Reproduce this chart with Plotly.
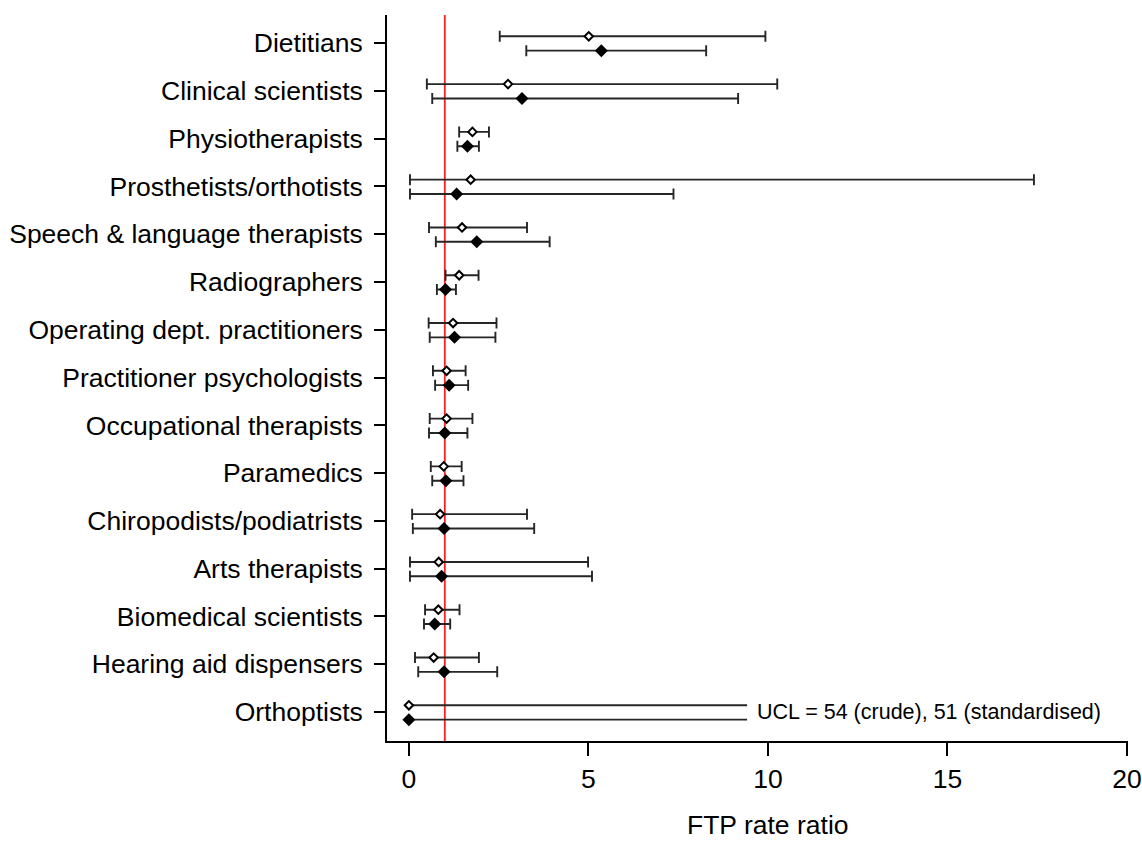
import plotly.graph_objects as go

categories = [
    "Dietitians", "Clinical scientists", "Physiotherapists", "Prosthetists/orthotists",
    "Speech & language therapists", "Radiographers", "Operating dept. practitioners",
    "Practitioner psychologists", "Occupational therapists", "Paramedics",
    "Chiropodists/podiatrists", "Arts therapists", "Biomedical scientists",
    "Hearing aid dispensers", "Orthoptists",
]
crude_rr = [5.01, 2.76, 1.77, 1.72, 1.48, 1.40, 1.23, 1.05, 1.05, 0.97, 0.87, 0.83, 0.82, 0.69, 0.0]
crude_lo = [2.53, 0.50, 1.40, 0.03, 0.56, 1.02, 0.55, 0.67, 0.58, 0.61, 0.09, 0.03, 0.45, 0.17, 0.0]
crude_hi = [9.93, 10.26, 2.23, 17.41, 3.29, 1.94, 2.44, 1.58, 1.77, 1.47, 3.29, 4.99, 1.41, 1.95, 54.0]
std_rr = [5.36, 3.15, 1.63, 1.33, 1.89, 1.02, 1.27, 1.12, 1.00, 1.03, 0.98, 0.91, 0.72, 0.98, 0.0]
std_lo = [3.27, 0.65, 1.35, 0.03, 0.75, 0.78, 0.58, 0.73, 0.56, 0.65, 0.11, 0.03, 0.42, 0.26, 0.0]
std_hi = [8.28, 9.17, 1.95, 7.37, 3.92, 1.31, 2.41, 1.65, 1.63, 1.52, 3.49, 5.10, 1.15, 2.46, 51.0]
null_value = 1.0
display_limit = 9.42
ucl_note = "UCL = 54 (crude), 51 (standardised)"
x_ticks = [0, 5, 10, 15, 20]

FONT = "Liberation Sans, Arial, sans-serif"
n = len(categories)
rows = [n - 1 - i for i in range(n)]
crude_y = [r + 0.14 for r in rows]
std_y = [r - 0.16 for r in rows]

fig = go.Figure()

def add_series(rr, lo, hi, ys, filled):
    keep = [i for i in range(n) if hi[i] <= display_limit * 2]
    fig.add_trace(go.Scatter(
        x=[rr[i] for i in keep], y=[ys[i] for i in keep], mode="markers",
        marker=dict(size=1, color="rgba(0,0,0,0)"),
        error_x=dict(type="data", symmetric=False,
                     array=[hi[i] - rr[i] for i in keep],
                     arrayminus=[rr[i] - lo[i] for i in keep],
                     color="#262626", thickness=1.9, width=5.5),
        hoverinfo="skip", showlegend=False))
    trunc = [i for i in range(n) if hi[i] > display_limit * 2]
    for i in trunc:
        fig.add_trace(go.Scatter(
            x=[lo[i], display_limit], y=[ys[i], ys[i]], mode="lines",
            line=dict(color="#262626", width=1.9), hoverinfo="skip", showlegend=False))
    if filled:
        mk = dict(symbol="diamond", size=10, color="black", line=dict(width=0))
    else:
        mk = dict(symbol="diamond", size=6.5, color="white", line=dict(color="black", width=2))
    fig.add_trace(go.Scatter(x=rr, y=ys, mode="markers", marker=mk,
                             showlegend=False, hoverinfo="x+y"))

add_series(crude_rr, crude_lo, crude_hi, crude_y, False)
add_series(std_rr, std_lo, std_hi, std_y, True)

fig.add_vline(x=null_value, line=dict(color="#ff1f1f", width=1.8), layer="below")

fig.add_annotation(x=display_limit, y=rows[-1], xref="x", yref="y", text=ucl_note,
                   showarrow=False, xanchor="left", yanchor="middle", xshift=8,
                   font=dict(family=FONT, size=21.5, color="black"))
fig.add_annotation(x=10, y=-0.1157, xref="x", yref="paper", text="FTP rate ratio",
                   showarrow=False, xanchor="center", yanchor="middle",
                   font=dict(family=FONT, size=26.5, color="black"))

fig.update_layout(
    width=1142, height=844,
    margin=dict(l=387, r=14, t=15, b=103, autoexpand=False),
    plot_bgcolor="white", paper_bgcolor="white",
    font=dict(family=FONT, color="black"),
    xaxis=dict(range=[-0.61, 20.03], tickvals=x_ticks, showgrid=False, zeroline=False,
               showline=True, linecolor="black", linewidth=1.8, automargin=False,
               ticks="outside", ticklen=13, tickwidth=1.8, tickcolor="black",
               ticklabeloverflow="allow",
               tickfont=dict(family=FONT, size=26.5, color="black")),
    yaxis=dict(range=[-0.607, 14.586], tickvals=rows, ticktext=categories,
               showgrid=False, zeroline=False, showline=True, linecolor="black",
               linewidth=1.8, ticks="outside", ticklen=11, tickwidth=1.8, automargin=False,
               tickcolor="black", ticklabelstandoff=6,
               tickfont=dict(family=FONT, size=26.5, color="black")),
)

fig.write_html("out.html", config={"displayModeBar": False},
               post_script="document.body.style.margin='0';document.body.style.overflow='hidden';")
